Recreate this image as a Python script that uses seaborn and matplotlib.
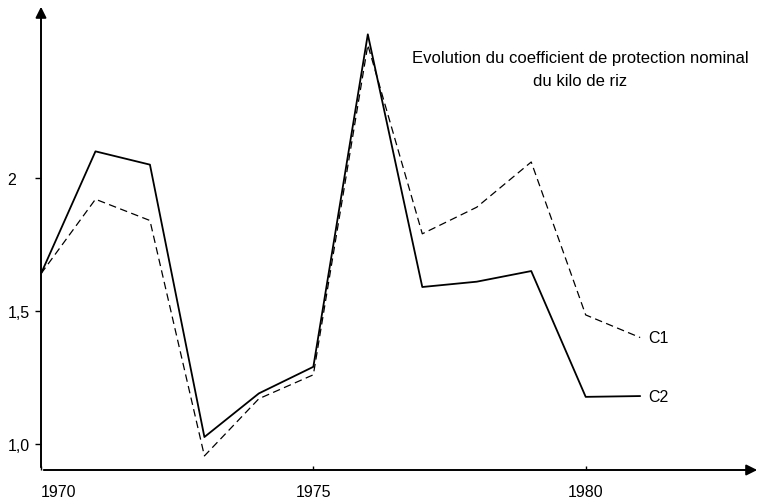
import matplotlib
matplotlib.use("Agg")
import matplotlib.pyplot as plt
import seaborn as sns
import pandas as pd

# coefficient de protection nominal du kilo de riz
years = [1970, 1971, 1972, 1973, 1974, 1975, 1976, 1977, 1978, 1979, 1980, 1981]
c1 = [1.64, 1.92, 1.84, 0.955, 1.17, 1.26, 2.50, 1.79, 1.89, 2.06, 1.485, 1.40]
c2 = [1.64, 2.10, 2.05, 1.026, 1.19, 1.29, 2.54, 1.59, 1.61, 1.65, 1.177, 1.18]
xticks = [1970, 1975, 1980]
yticks = [1.0, 1.5, 2.0]
ytick_labels = ["1,0", "1,5", "2"]
title = "Evolution du coefficient de protection nominal\ndu kilo de riz"

sns.set_style("white")
plt.rcParams['font.family'] = ['Liberation Sans', 'DejaVu Sans']
plt.rcParams['text.color'] = 'black'
plt.rcParams['xtick.color'] = 'black'
plt.rcParams['ytick.color'] = 'black'

df = pd.DataFrame({"annee": years, "C1": c1, "C2": c2})

fig = plt.figure(figsize=(7.63, 5.02), dpi=100)
ax = fig.add_axes([41 / 763, 31 / 502, 719 / 763, 466 / 502])

sns.lineplot(data=df, x="annee", y="C2", ax=ax, color="black", lw=1.3)
sns.lineplot(data=df, x="annee", y="C1", ax=ax, color="black", lw=0.9,
             linestyle=(0, (6, 3.5)))

ax.set_xlim(1970, 1983.2)
ax.set_ylim(0.902, 2.654)
for s in ax.spines.values():
    s.set_visible(False)

ax.set_xticks(xticks)
ax.set_xticklabels([str(y) for y in xticks])
ax.set_yticks(yticks)
ax.set_yticklabels(ytick_labels)
ax.tick_params(axis="x", bottom=True, direction="in", length=3, width=1,
               pad=10, labelsize=11.5, colors="black")
ax.tick_params(axis="y", left=True, direction="out", length=4, width=1,
               pad=20, labelsize=11.5, colors="black")
ax.get_xticklabels()[0].set_ha("left")
for lab in ax.get_yticklabels():
    lab.set_ha("left")
ax.set_xlabel("")
ax.set_ylabel("")

# axes drawn as arrows
arrow = dict(arrowstyle="-|>", color="black", lw=1.4, mutation_scale=16)
ax.annotate("", xy=(1, 0), xytext=(0, 0), xycoords="axes fraction",
            arrowprops=arrow, annotation_clip=False)
ax.annotate("", xy=(0, 1), xytext=(0, 0), xycoords="axes fraction",
            arrowprops=arrow, annotation_clip=False)

ax.text(1979.9, 2.41, title, ha="center", va="center", fontsize=12,
        linespacing=1.7, color="black")
ax.text(1981.15, c1[-1], "C1", ha="left", va="center", fontsize=11.5)
ax.text(1981.15, c2[-1], "C2", ha="left", va="center", fontsize=11.5)

fig.savefig("out.png", dpi=100)
